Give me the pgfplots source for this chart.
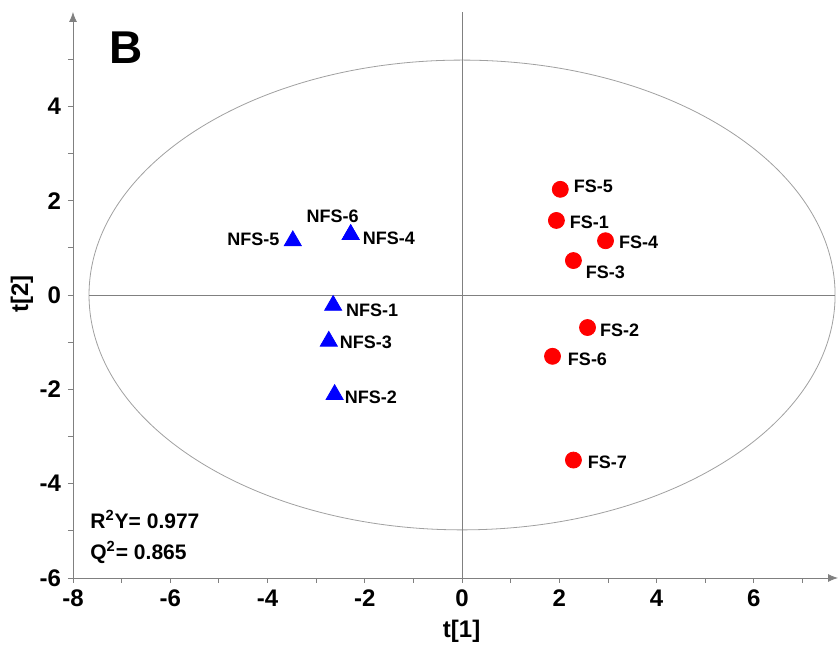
\documentclass[border=0pt]{standalone}
\usepackage{fontspec}
\setmainfont{Liberation Sans}
\usepackage{pgfplots}
\pgfplotsset{compat=1.18}
\usetikzlibrary{arrows.meta}
\definecolor{axgray}{HTML}{808080}
\definecolor{ellgray}{HTML}{A0A0A0}

\begin{document}
\begin{tikzpicture}
\begin{axis}[
  scale only axis,
  width=382.5pt, height=283pt,
  xmin=-8, xmax=7.73,
  ymin=-6, ymax=6,
  axis lines=left,
  axis line style={axgray, -{Latex[length=5pt,width=4pt]}},
  xtick={-8,-6,...,6},
  ytick={-6,-4,...,4},
  minor xtick={-7,-5,...,7},
  minor ytick={-5,-3,...,5},
  tick align=outside,
  major tick length=2.5pt,
  minor tick length=2.5pt,
  every tick/.style={axgray, thin},
  /pgf/number format/assume math mode=true,
  ticklabel style={font=\bfseries\fontsize{12}{12}\selectfont},
  xlabel={t[1]}, ylabel={t[2]},
  label style={font=\bfseries\fontsize{12}{12}\selectfont},
  xlabel style={at={(axis description cs:0.508,-0.095)}, anchor=center},
  ylabel style={at={(axis description cs:-0.0667,0.502)}, anchor=center},
  clip=false,
]
% boundary of the reference figure
\path (rel axis cs:-0.0954,-0.1201) rectangle (rel axis cs:1.0013,1.0212);

% Hotelling ellipse and zero lines
\draw[ellgray, thin] (axis cs:0,0) ellipse [x radius=7.67, y radius=4.98];
\draw[axgray, thin] (axis cs:-7.67,0) -- (axis cs:7.67,0);
\draw[axgray, thin] (axis cs:0,-6) -- (axis cs:0,6);

% FS samples
\addplot[only marks, mark=*, mark size=4pt, color=red] coordinates {
  (1.94,1.58) (2.58,-0.69) (2.29,0.73) (2.95,1.15)
  (2.02,2.24) (1.86,-1.30) (2.29,-3.50)
};
% NFS samples
\addplot[only marks, mark=triangle*, mark size=4.9pt, color=blue] coordinates {
  (-2.65,-0.22) (-2.62,-2.11) (-2.74,-0.98) (-2.29,1.28)
  (-3.48,1.15) (-2.29,1.28)
};

\begin{scope}[every node/.style={font=\bfseries\fontsize{9}{9}\selectfont, inner sep=0pt}]
\node[anchor=west] at (axis cs:2.29,2.30) {FS-5};
\node[anchor=west] at (axis cs:2.21,1.54) {FS-1};
\node[anchor=west] at (axis cs:3.22,1.11) {FS-4};
\node[anchor=west] at (axis cs:2.54,0.48) {FS-3};
\node[anchor=west] at (axis cs:2.83,-0.75) {FS-2};
\node[anchor=west] at (axis cs:2.17,-1.37) {FS-6};
\node[anchor=west] at (axis cs:2.58,-3.55) {FS-7};
\node[anchor=east] at (axis cs:-3.75,1.18) {NFS-5};
\node[anchor=center] at (axis cs:-2.66,1.66) {NFS-6};
\node[anchor=west] at (axis cs:-2.05,1.20) {NFS-4};
\node[anchor=west] at (axis cs:-2.39,-0.33) {NFS-1};
\node[anchor=west] at (axis cs:-2.52,-1.01) {NFS-3};
\node[anchor=west] at (axis cs:-2.42,-2.17) {NFS-2};
\end{scope}

\node[font=\bfseries\fontsize{23}{23}\selectfont, inner sep=0pt] at (axis cs:-6.90,5.24) {B};
\node[anchor=west, inner sep=0pt, font=\bfseries\fontsize{10.5}{10.5}\selectfont] at (axis cs:-7.65,-4.76) {R\textsuperscript{2}Y= 0.977};
\node[anchor=west, inner sep=0pt, font=\bfseries\fontsize{10.5}{10.5}\selectfont] at (axis cs:-7.65,-5.46) {Q\textsuperscript{2}= 0.865};
\end{axis}
\end{tikzpicture}
\end{document}
